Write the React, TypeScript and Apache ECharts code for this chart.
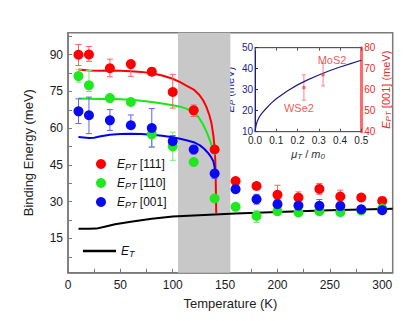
import React, { useEffect, useRef } from 'react';
import * as echarts from 'echarts';

const FONT = '"Liberation Sans", Arial, sans-serif';

// Main data
const temps = [10, 20, 40, 60, 80, 100, 120, 140, 160, 180, 200, 220, 240, 260, 280, 300];
const e111 = [90, 90.1, 84.5, 86.2, 83.1, 74.8, 67.3, 51.3, 38.4, 36.4, 32.8, 31.7, 35.2, 32.1, 31.7, 30.3];
const e111Lo = [85.6, 87.3, 81, 81.2, 82, 68.2, 64.8, 51.3, 38.4, 35.3, 29, 29.4, 33, 30, 31.7, 30.3];
const e111Hi = [94.2, 93.4, 88.2, 86.5, 84.2, 82, 69.5, 51.3, 38.4, 37.5, 36.7, 34, 37.4, 34.7, 31.7, 30.3];
const e110 = [81.3, 77.5, 72.3, 70.7, 57.5, 52.6, 46.2, 31.3, 27.9, 24.2, 26.1, 25.6, 26.1, 25.7, 26.4, 27.2];
const e110Lo = [78.8, 75, 71.5, 69.5, 52.3, 46.9, 46.2, 30, 27.9, 21.5, 24.5, 25.6, 26.1, 25.7, 26.4, 27.2];
const e110Hi = [83.9, 83.6, 73, 72, 61.2, 58.4, 46.2, 32.5, 27.9, 26.5, 27.5, 25.6, 26.1, 25.7, 26.4, 27.2];
const e001 = [66.9, 65.3, 63.2, 61.2, 60.1, 54.7, 51.3, 41.5, 35.1, 31.0, 29.0, 28.4, 28.3, 28.2, 26.9, 26.5];
const e001Lo = [61.9, 57.8, 59.1, 61.2, 52.3, 52.5, 49.5, 39.5, 35.1, 29, 27.5, 28.4, 26.5, 27, 26.9, 26.5];
const e001Hi = [72, 72.7, 67.6, 65.4, 68, 57, 53, 43, 35.1, 33, 31, 28.4, 30.9, 29.5, 26.9, 26.5];

// Fitted curves
const fit111T = [10, 15, 20, 30, 40, 50, 60, 70, 80, 90, 100, 107, 113, 120, 125, 129, 132, 135, 137, 138.8, 140, 140.6, 141, 141.3, 141.5];
const fit111V = [84, 83.8, 83.6, 83.5, 83.6, 83.5, 83.3, 83, 82.4, 81.5, 80.2, 78.8, 77.4, 75.8, 73.8, 71.4, 68.8, 65.3, 62, 57, 52, 47, 40, 32, 25.3];
const fit110T = [10, 20, 30, 40, 50, 60, 70, 80, 90, 100, 107, 113, 120, 125, 129, 132.5, 135.5, 138, 139.5, 140.5];
const fit110V = [72.1, 72, 71.9, 72, 71.8, 71.6, 71.2, 70.7, 70.1, 69.4, 68.8, 68, 66.6, 64.3, 61.5, 58.3, 55, 52, 50.5, 49];
const fit001T = [10, 15, 20, 25, 30, 40, 50, 60, 70, 80, 90, 100, 107, 113, 120, 126, 130, 133.5, 136.5, 138.8, 140, 140.8];
const fit001V = [56.4, 56.2, 56, 56.1, 56.6, 57.3, 57.6, 57.7, 57.6, 57.3, 56.9, 56.3, 55.7, 55.1, 54.3, 53, 51.6, 50, 48.3, 46.5, 44, 40];
const etT = [10, 20, 27, 35, 45, 60, 80, 100, 120, 140, 160, 200, 250, 300, 310];
const etV = [18.9, 18.9, 19, 19.8, 20.8, 21.8, 23, 23.9, 24.4, 24.8, 25.2, 25.8, 26.5, 27, 27.1];

const band = [105, 155];
const xTicks = [0, 25, 50, 75, 100, 125, 150, 175, 200, 225, 250, 275, 300];
const xLabels = [0, 50, 100, 150, 200, 250, 300];
const yTicks = [7.5, 15, 22.5, 30, 37.5, 45, 52.5, 60, 67.5, 75, 82.5, 90, 97.5];
const yLabels = [15, 30, 45, 60, 75, 90];

// Inset data
const insetMu = [0, 0.005, 0.01, 0.02, 0.03, 0.05, 0.075, 0.1, 0.15, 0.2, 0.25, 0.3, 0.35, 0.4, 0.45, 0.5];
const insetEp = [10, 13, 14.8, 17, 18.5, 20.8, 23.5, 25.7, 29.3, 32.3, 34.8, 37, 39, 40.8, 42.4, 44];
const matNames = ['WSe2', 'MoS2'];
const matMu = [0.23, 0.32];
const matEpt = [61, 67.1];
const matLo = [55, 61.8];
const matHi = [67.1, 72.6];

function errSeries(xs: number[], lo: number[], hi: number[], color: string, xi: number, yi: number, cap: number) {
  return {
    type: 'custom',
    xAxisIndex: xi,
    yAxisIndex: yi,
    z: 3,
    silent: true,
    encode: { x: 0, y: [1, 2] },
    data: xs.map((x, i) => [x, lo[i], hi[i]]),
    renderItem: (params: any, api: any) => {
      const x = api.value(0);
      const l = api.value(1);
      const h = api.value(2);
      if (h - l < 0.05) return { type: 'group', children: [] };
      const p1 = api.coord([x, l]);
      const p2 = api.coord([x, h]);
      const st = { stroke: color, lineWidth: 1 };
      return {
        type: 'group',
        children: [
          { type: 'line', shape: { x1: p1[0], y1: p1[1], x2: p2[0], y2: p2[1] }, style: st },
          { type: 'line', shape: { x1: p1[0] - cap, y1: p1[1], x2: p1[0] + cap, y2: p1[1] }, style: st },
          { type: 'line', shape: { x1: p2[0] - cap, y1: p2[1], x2: p2[0] + cap, y2: p2[1] }, style: st },
        ],
      };
    },
  };
}

const zip = (a: number[], b: number[]) => a.map((v, i) => [v, b[i]]);

const subRich = {
  e: { fontStyle: 'italic', fontSize: 12, lineHeight: 14, fontFamily: FONT, color: '#111' },
  s: { fontStyle: 'italic', fontSize: 9, lineHeight: 6, verticalAlign: 'bottom', fontFamily: FONT, color: '#111' },
  n: { fontSize: 12, lineHeight: 14, fontFamily: FONT, color: '#111' },
};

function insetRich(color: string) {
  return {
    e: { fontStyle: 'italic', fontSize: 11, lineHeight: 13, color, fontFamily: FONT },
    s: { fontStyle: 'italic', fontSize: 8, lineHeight: 5, verticalAlign: 'bottom', color, fontFamily: FONT },
    n: { fontSize: 11, lineHeight: 13, color, fontFamily: FONT },
  };
}

export default function App() {
  const ref = useRef<HTMLDivElement>(null);
  useEffect(() => {
    document.body.style.margin = '0';
    const chart = echarts.init(ref.current!, null, { renderer: 'svg' });
    const frame = '#7a7a7a';
    const option: any = {
      animation: false,
      backgroundColor: '#fff',
      textStyle: { fontFamily: FONT },
      grid: [
        { left: 68, right: 22.3, top: 32.7, bottom: 48.3, show: true, borderColor: frame, borderWidth: 1.5, backgroundColor: 'transparent' },
        { left: 255, right: 53.7, top: 47.7, bottom: 189.3, show: true, borderColor: '#555', borderWidth: 1, backgroundColor: 'transparent' },
      ],
      legend: [
        {
          data: ['EPT [111]', 'EPT [110]', 'EPT [001]'],
          orient: 'vertical',
          left: 91,
          top: 153,
          itemWidth: 10,
          itemHeight: 10,
          itemGap: 6,
          formatter: (name: string) => `{e|E}{s|PT}{n| ${name.slice(4)}}`,
          textStyle: { padding: [0, 0, 0, 6], rich: subRich },
        },
        {
          data: [{ name: 'ET', icon: 'rect' }],
          left: 78,
          top: 240,
          itemWidth: 33,
          itemHeight: 2.5,
          formatter: () => '{e|E}{s|T}',
          textStyle: { rich: subRich },
        },
      ],
      xAxis: [
        {
          type: 'value', gridIndex: 0, min: 0, max: 310,
          name: 'Temperature (K)', nameLocation: 'middle', nameGap: 24,
          nameTextStyle: { fontSize: 13, color: '#222', fontFamily: FONT },
          axisLine: { onZero: false, lineStyle: { color: frame, width: 1.5 } },
          axisTick: { inside: true, length: 4, customValues: xTicks, lineStyle: { color: frame } },
          axisLabel: { customValues: xLabels, fontSize: 12, color: '#1a1a1a', margin: 6, fontFamily: FONT },
          splitLine: { show: false },
        },
        {
          type: 'value', gridIndex: 1, min: 0, max: 0.5, interval: 0.1,
          name: '{e|μ}{s|T}{n| / }{e|m}{s|0}', nameLocation: 'middle', nameGap: 16,
          nameTextStyle: { rich: insetRich('#333') },
          axisLine: { onZero: false, lineStyle: { color: '#555', width: 1 } },
          axisTick: { inside: true, length: 3, lineStyle: { color: '#555' } },
          axisLabel: { fontSize: 10, color: '#222', margin: 4, formatter: (v: number) => v.toFixed(1), fontFamily: FONT },
          splitLine: { show: false },
        },
        {
          type: 'value', gridIndex: 1, min: 0, max: 0.5, interval: 0.1, position: 'top',
          axisLine: { onZero: false, lineStyle: { color: '#555', width: 1 } },
          axisTick: { inside: true, length: 3, lineStyle: { color: '#555' } },
          axisLabel: { show: false },
          splitLine: { show: false },
        },
      ],
      yAxis: [
        {
          type: 'value', gridIndex: 0, min: 1, max: 99,
          name: 'Binding Energy (meV)', nameLocation: 'middle', nameGap: 33,
          nameTextStyle: { fontSize: 13, color: '#222', fontFamily: FONT },
          axisLine: { onZero: false, lineStyle: { color: frame, width: 1.5 } },
          axisTick: { inside: true, length: 4, customValues: yTicks, lineStyle: { color: frame } },
          axisLabel: { customValues: yLabels, fontSize: 12, color: '#1a1a1a', margin: 5, fontFamily: FONT },
          splitLine: { show: false },
        },
        {
          type: 'value', gridIndex: 1, min: 10, max: 50, interval: 10, position: 'left',
          name: '{e|E}{s|P}{n| (meV)}', nameLocation: 'middle', nameGap: 19, nameRotate: 90,
          nameTextStyle: { rich: insetRich('#1c1c8a') },
          axisLine: { onZero: false, lineStyle: { color: '#1c1c8a', width: 1 } },
          axisTick: { inside: true, length: 3, lineStyle: { color: '#1c1c8a' } },
          axisLabel: { fontSize: 10, color: '#1c1c8a', margin: 2, fontFamily: FONT },
          splitLine: { show: false },
        },
        {
          type: 'value', gridIndex: 1, min: 40, max: 80, interval: 10, position: 'right',
          name: '{e|E}{s|PT}{n| [001] (meV)}', nameLocation: 'middle', nameGap: 18, nameRotate: 90,
          nameTextStyle: { rich: insetRich('#ee2a2a') },
          axisLine: { onZero: false, lineStyle: { color: '#ff6a6a', width: 3 } },
          axisTick: { show: false },
          axisLabel: { fontSize: 10, color: '#ee2a2a', margin: 3, fontFamily: FONT },
          splitLine: { show: false },
        },
      ],
      series: [
        {
          type: 'line', xAxisIndex: 0, yAxisIndex: 0, data: [], z: 1, silent: true,
          markArea: { silent: true, itemStyle: { color: '#c8c8c8' }, data: [[{ xAxis: band[0] }, { xAxis: band[1] }]] },
        },
        { name: 'ET', type: 'line', xAxisIndex: 0, yAxisIndex: 0, data: zip(etT, etV), symbol: 'none', z: 2, lineStyle: { color: '#000', width: 2 }, itemStyle: { color: '#000' } },
        { type: 'line', xAxisIndex: 0, yAxisIndex: 0, data: zip(fit111T, fit111V), symbol: 'none', z: 2, lineStyle: { color: '#ff0000', width: 2 } },
        { type: 'line', xAxisIndex: 0, yAxisIndex: 0, data: zip(fit110T, fit110V), symbol: 'none', z: 2, lineStyle: { color: '#18e818', width: 2 } },
        { type: 'line', xAxisIndex: 0, yAxisIndex: 0, data: zip(fit001T, fit001V), symbol: 'none', z: 2, lineStyle: { color: '#0000f0', width: 2 } },
        errSeries(temps, e111Lo, e111Hi, '#ff6060', 0, 0, 3),
        errSeries(temps, e110Lo, e110Hi, '#70ee70', 0, 0, 3),
        errSeries(temps, e001Lo, e001Hi, '#6060ff', 0, 0, 3),
        { name: 'EPT [111]', type: 'scatter', xAxisIndex: 0, yAxisIndex: 0, data: zip(temps, e111), symbolSize: 10, z: 4, itemStyle: { color: '#ff0000', opacity: 1 } },
        { name: 'EPT [110]', type: 'scatter', xAxisIndex: 0, yAxisIndex: 0, data: zip(temps, e110), symbolSize: 10, z: 4, itemStyle: { color: '#1ee81e', opacity: 1 } },
        { name: 'EPT [001]', type: 'scatter', xAxisIndex: 0, yAxisIndex: 0, data: zip(temps, e001), symbolSize: 10, z: 4, itemStyle: { color: '#0a0af0', opacity: 1 } },
        { type: 'line', xAxisIndex: 1, yAxisIndex: 1, data: zip(insetMu, insetEp), symbol: 'none', z: 5, lineStyle: { color: '#1c1c8a', width: 1.2 } },
        errSeries(matMu, matLo, matHi, '#ff8080', 1, 2, 2),
        {
          type: 'scatter', xAxisIndex: 1, yAxisIndex: 2, symbol: 'rect', symbolSize: 3, z: 6,
          itemStyle: { color: '#f04040' },
          data: matMu.map((m, i) => ({
            value: [m, matEpt[i]],
            name: matNames[i],
            label: i === 0
              ? { show: true, formatter: matNames[i], position: 'bottom', distance: 13, offset: [-5, 0], color: '#ee2a2a', fontSize: 11, fontFamily: FONT }
              : { show: true, formatter: matNames[i], position: 'top', distance: 8, offset: [9, 0], color: '#ee2a2a', fontSize: 11, fontFamily: FONT },
          })),
        },
      ],
    };
    chart.setOption(option);
    return () => chart.dispose();
  }, []);
  return <div ref={ref} style={{ width: 415, height: 321 }} />;
}
